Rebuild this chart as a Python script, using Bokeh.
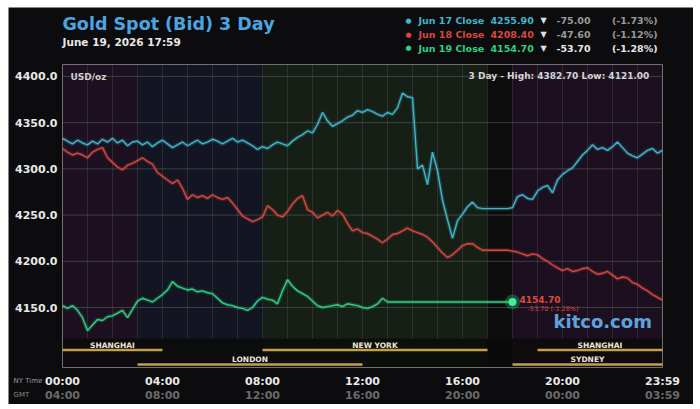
import numpy as np
from bokeh.plotting import figure
from bokeh.models import Range1d, Label, ColumnDataSource
from bokeh.embed import file_html
from bokeh.resources import INLINE
from bokeh.core.properties import value

# ---------------- data ----------------
TITLE = "Gold Spot (Bid) 3 Day"
SUBTITLE = "June 19, 2026 17:59"
UNIT = "USD/oz"
HIGH = "4382.70"
LOW = "4121.00"
STEP_H = 0.2  # sampling step in hours (NY time)

JUN17 = [
    4333, 4330, 4327, 4331, 4328,
    4326, 4330, 4327, 4332, 4329,
    4333, 4328, 4331, 4325, 4329,
    4330, 4326, 4329, 4324, 4328,
    4331, 4327, 4323, 4326, 4329,
    4325, 4328, 4331, 4327, 4329,
    4332, 4330, 4327, 4330, 4333,
    4329, 4331, 4328, 4325, 4321,
    4324, 4322, 4326, 4329, 4327,
    4325, 4330, 4334, 4337, 4341,
    4339, 4348, 4361, 4352, 4346,
    4349, 4352, 4356, 4358, 4363,
    4361, 4364, 4362, 4359, 4357,
    4361, 4359, 4366, 4382, 4378,
    4377, 4300, 4304, 4283, 4318,
    4298, 4266, 4245, 4225, 4244,
    4251, 4259, 4264, 4258, 4257,
    4257, 4257, 4257, 4257, 4257,
    4258, 4270, 4272, 4268, 4267,
    4276, 4280, 4282, 4274, 4288,
    4294, 4298, 4301, 4308, 4315,
    4320, 4326, 4321, 4323, 4320,
    4324, 4329, 4323, 4317, 4314,
    4312, 4316, 4320, 4322, 4317,
    4320,
]
JUN18 = [
    4322, 4318, 4315, 4317, 4315,
    4312, 4318, 4321, 4323, 4312,
    4307, 4302, 4299, 4304, 4306,
    4309, 4312, 4308, 4305, 4296,
    4292, 4288, 4284, 4288, 4279,
    4267, 4272, 4269, 4271, 4268,
    4272, 4269, 4267, 4269, 4263,
    4256, 4249, 4246, 4243, 4245,
    4248, 4260, 4256, 4250, 4248,
    4254, 4262, 4268, 4271, 4256,
    4253, 4247, 4250, 4253, 4249,
    4255, 4251, 4241, 4233, 4235,
    4231, 4230, 4227, 4224, 4220,
    4224, 4229, 4230, 4233, 4236,
    4233, 4231, 4229, 4226, 4221,
    4215, 4209, 4204, 4207, 4212,
    4217, 4219, 4219, 4215, 4212,
    4212, 4212, 4212, 4212, 4212,
    4211, 4210, 4208, 4206, 4208,
    4207, 4203, 4200, 4196, 4193,
    4190, 4192, 4189, 4190, 4192,
    4193, 4189, 4186, 4187, 4189,
    4185, 4181, 4183, 4182, 4177,
    4175, 4171, 4168, 4164, 4161,
    4158,
]
JUN19 = [
    4152, 4149, 4152, 4147, 4139,
    4125, 4131, 4137, 4136, 4140,
    4141, 4144, 4147, 4139, 4148,
    4157, 4160, 4158, 4156, 4160,
    4164, 4169, 4178, 4173, 4171,
    4169, 4170, 4167, 4168, 4166,
    4165, 4160, 4155, 4153, 4152,
    4150, 4149, 4147, 4150, 4157,
    4161, 4159, 4158, 4154, 4168,
    4180, 4173, 4168, 4165, 4162,
    4157, 4152, 4150, 4151, 4152,
    4153, 4151, 4154, 4153, 4152,
    4150, 4149, 4151, 4154, 4160,
    4156, 4156, 4156, 4156, 4156,
    4156, 4156, 4156, 4156, 4156,
    4156, 4156, 4156, 4156, 4156,
    4156, 4156, 4156, 4156, 4156,
    4156, 4156, 4156, 4156, 4156,
    4156,
]

SERIES_NAMES = ["Jun 17 Close", "Jun 18 Close", "Jun 19 Close"]
SERIES_CLOSE = ["4255.90", "4208.40", "4154.70"]
SERIES_CHANGE = ["-75.00", "-47.60", "-53.70"]
SERIES_PCT = ["(-1.73%)", "(-1.12%)", "(-1.28%)"]
SERIES_COLORS = ["#3fb6cc", "#d9473f", "#2fd083"]

Y_TICKS = [4150, 4200, 4250, 4300, 4350, 4400]
X_TICKS = [0, 4, 8, 12, 16, 20, 24]
NY_LABELS = ["00:00", "04:00", "08:00", "12:00", "16:00", "20:00", "23:59"]
GMT_LABELS = ["04:00", "08:00", "12:00", "16:00", "20:00", "00:00", "03:59"]
GRID_HOURS = list(range(1, 24))

BAND_START = [0, 3, 8, 17, 18]
BAND_END = [3, 8, 17, 18, 24]
BAND_COLORS = ["#1d1121", "#131622", "#161f16", "#0d0d0d", "#1c1020"]

SESSION_NAMES = ["SHANGHAI", "NEW YORK", "SHANGHAI", "LONDON", "SYDNEY"]
SESSION_START = [0, 8, 19, 3, 18]
SESSION_END = [4, 17, 24, 12, 24]
SESSION_ROW = [0, 0, 0, 1, 1]

# ---------------- geometry (page pixels) ----------------
OX, OY, OR, OB = 8, 7, 693, 404    # dark panel edges in the page
FL, FR, FT, FB = 62, 662, 64, 367  # chart box edges in the page
Y_TOP, Y_BOT = 4412.9, 4085.1      # values at chart box top / bottom
X0, X1 = 0, 24                     # hours at chart box left / right


def vy(py):
    return Y_TOP - (py - FT) * (Y_TOP - Y_BOT) / (FB - FT)


def hx(px):
    return X0 + (px - FL) * (X1 - X0) / (FR - FL)


FONT = "DejaVu Sans"

p = figure(width=OR - OX, height=OB - OY, output_backend="svg", toolbar_location=None,
           x_range=Range1d(hx(OX), hx(OR)), y_range=Range1d(vy(OB), vy(OY)),
           x_axis_location=None, y_axis_location=None,
           min_border=0, min_border_left=0, min_border_right=0,
           min_border_top=0, min_border_bottom=0,
           background_fill_color="#0c0c0f", border_fill_color="#0c0c0f",
           outline_line_color=None, margin=(OY, 0, 0, OX))
p.grid.visible = False

# background bands
p.quad(left=BAND_START, right=BAND_END, bottom=Y_BOT, top=Y_TOP,
       fill_color=BAND_COLORS, line_color=None)

# session strip
p.quad(left=X0, right=X1, bottom=Y_BOT, top=vy(338), fill_color="#0a0a0a",
       fill_alpha=0.8, line_color=None)

# grid lines
p.segment(x0=GRID_HOURS, x1=GRID_HOURS, y0=vy(338), y1=Y_TOP,
          line_color="#4a4a4a", line_alpha=0.45, line_width=1)
p.segment(x0=X0, x1=X1, y0=Y_TICKS, y1=Y_TICKS,
          line_color="#5a5a5a", line_alpha=0.6, line_width=1)

# chart box outline
p.quad(left=X0, right=X1, bottom=Y_BOT, top=Y_TOP, fill_color=None,
       line_color="#707070", line_width=1)

# sessions
bar_y = [vy(349.5) if r == 0 else vy(364) for r in SESSION_ROW]
lab_y = [vy(344.5) if r == 0 else vy(359) for r in SESSION_ROW]
mid = [(a + b) / 2 for a, b in zip(SESSION_START, SESSION_END)]
p.segment(x0=SESSION_START, x1=SESSION_END, y0=bar_y, y1=bar_y,
          line_color="#c4a04a", line_width=2.5)
p.text(x=mid, y=lab_y, text=SESSION_NAMES, text_font=value(FONT),
       text_font_style="bold", text_font_size="7.5px", text_color="#ece6d6",
       text_align="center", text_baseline="middle")

# tick labels
p.text(x=[hx(57)] * len(Y_TICKS), y=Y_TICKS, text=[f"{t:.1f}" for t in Y_TICKS],
       text_font=value(FONT), text_font_style="bold", text_font_size="11px",
       text_color="#e8e8e8", text_align="right", text_baseline="middle")
p.text(x=X_TICKS, y=[vy(380.5)] * len(X_TICKS), text=NY_LABELS,
       text_font=value(FONT), text_font_style="bold", text_font_size="11px",
       text_color="#e8e8e8", text_align="center", text_baseline="middle")
p.text(x=X_TICKS, y=[vy(394.5)] * len(X_TICKS), text=GMT_LABELS,
       text_font=value(FONT), text_font_style="bold", text_font_size="11px",
       text_color="#6a6a6a", text_align="center", text_baseline="middle")

# series lines
hours17 = np.round(np.arange(len(JUN17)) * STEP_H, 2)
hours18 = np.round(np.arange(len(JUN18)) * STEP_H, 2)
hours19 = np.round(np.arange(len(JUN19)) * STEP_H, 2)
for hrs, vals, col in zip((hours17, hours18, hours19), (JUN17, JUN18, JUN19), SERIES_COLORS):
    src = ColumnDataSource(dict(x=hrs, y=vals))
    p.line("x", "y", source=src, line_color=col, line_width=4, line_alpha=0.22)
    p.line("x", "y", source=src, line_color=col, line_width=1.4)

# current price marker
p.scatter([hours19[-1]], [JUN19[-1]], size=15, fill_color=SERIES_COLORS[2], fill_alpha=0.3, line_color=None)
p.scatter([hours19[-1]], [JUN19[-1]], size=8, fill_color="#3ff08f", line_color=None)


def lab(px, py, text, size, color, bold=True, align="left"):
    p.add_layout(Label(x=hx(px), y=vy(py), text=text, text_font=FONT,
                       text_font_size=f"{size}px",
                       text_font_style="bold" if bold else "normal",
                       text_color=color, text_align=align, text_baseline="middle"))


# price annotation at marker
lab(519, 299, SERIES_CLOSE[2], 9, "#e0483e")
lab(527, 308, f"{SERIES_CHANGE[2]} {SERIES_PCT[2]}", 6.5, "#d9473f", bold=False)

# watermark
lab(553, 321, "kitco.com", 18, "#5fa3dc")

# in-box texts
lab(70, 76, UNIT, 9, "#cfcfcf")
lab(652, 75, f"3 Day - High: {HIGH}  Low: {LOW}", 9, "#d4d4d4", align="right")

# title block
lab(62, 23, TITLE, 17.5, "#4ba6e0")
lab(62, 41, SUBTITLE, 10.5, "#e6e6e6")

# legend
ROW_Y = [20, 34, 47.5]
for i in range(3):
    y = ROW_Y[i]
    col = SERIES_COLORS[i]
    grey = "#e8e8e8" if i == 2 else "#9a9a9a"
    lab(405, y, "●", 7, col)
    lab(418, y, SERIES_NAMES[i], 9.5, col)
    lab(490, y, SERIES_CLOSE[i], 9.5, col)
    lab(540, y, "▼", 8, "#e0e0e0")
    lab(590, y, SERIES_CHANGE[i], 9.5, grey, align="right")
    lab(657, y, SERIES_PCT[i], 9.5, grey, align="right")

# time-axis captions
lab(13, 380, "NY Time", 7, "#9a9a9a", bold=False)
lab(13, 394, "GMT", 7, "#8a8a8a", bold=False)

open("out.html", "w").write(file_html(p, INLINE))
